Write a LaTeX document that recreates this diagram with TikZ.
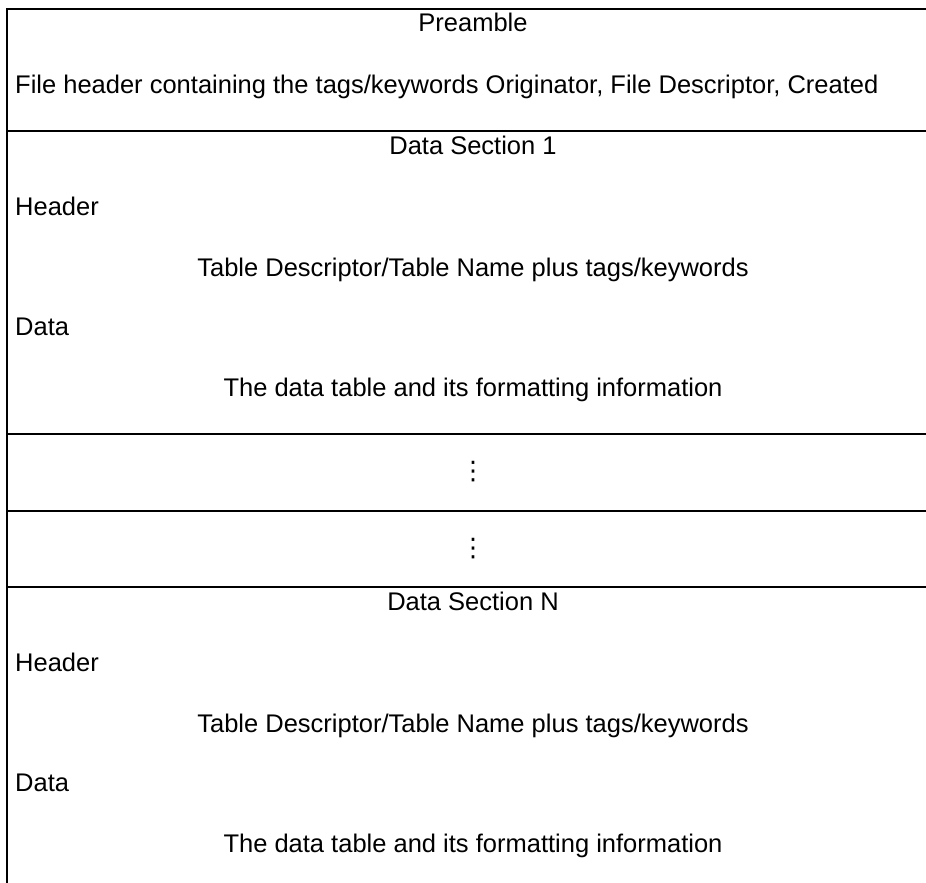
\documentclass[tikz,border=0pt]{standalone}
\usepackage{fontspec}
\setmainfont{Liberation Sans}
\newfontfamily\symfont{DejaVu Sans}
\usetikzlibrary{positioning}

\begin{document}
\begin{tikzpicture}[
    x=1pt, y=-1pt,
    every node/.style={font=\fontsize{25.5}{30}\selectfont, inner sep=0pt},
    heading/.style={anchor=base},
    tag/.style={anchor=base west},
    entry/.style={anchor=base},
    skip/.style={font=\fontsize{25.5}{30}\symfont},
    rule/.style={line width=2pt}
]
\useasboundingbox (0,0) rectangle (926,883);

% preamble block
\node[heading] (preamble) at (473,32) {Preamble};
\node[tag] (filehdr) at (15,93) {File header containing the tags/keywords Originator, File Descriptor, Created};

% first data section
\node[heading] (sec1) at (473,154) {Data Section 1};
\node[tag] (hdr1) at (15,215) {Header};
\node[entry] (desc1) at (473,276) {Table Descriptor/Table Name plus tags/keywords};
\node[tag] (data1) at (15,335) {Data};
\node[entry] (tab1) at (473,396) {The data table and its formatting information};

% skipped sections
\node[skip] (skipA) at (473,472) {⋮};
\node[skip] (skipB) at (473,549) {⋮};

% last data section
\node[heading] (secN) at (473,610) {Data Section N};
\node[tag] (hdrN) at (15,671) {Header};
\node[entry] (descN) at (473,732) {Table Descriptor/Table Name plus tags/keywords};
\node[tag] (dataN) at (15,791) {Data};
\node[entry] (tabN) at (473,852) {The data table and its formatting information};

% frame and dividers
\draw[rule] (926,9) -- (7,9) -- (7,883);
\draw[rule] (7,131) -- (926,131);
\draw[rule] (7,434) -- (926,434);
\draw[rule] (7,511) -- (926,511);
\draw[rule] (7,587) -- (926,587);
\end{tikzpicture}
\end{document}
